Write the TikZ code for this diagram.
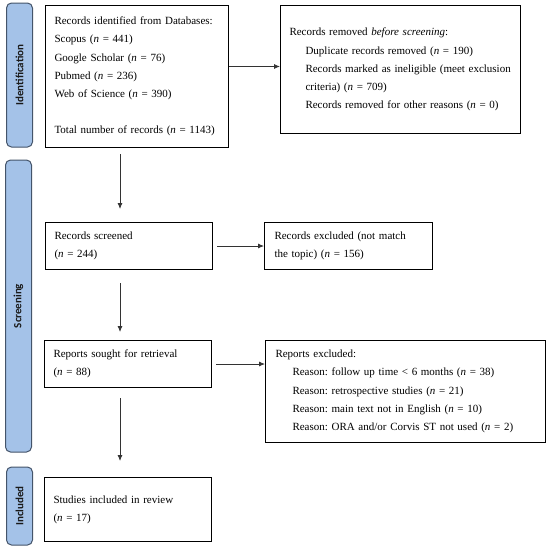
\documentclass[tikz,border=0pt]{standalone}
\usepackage{fontspec}
\setmainfont{Liberation Serif}
\newfontfamily\sidefont{Carlito}
\usetikzlibrary{arrows.meta}
\definecolor{sidefill}{RGB}{164,194,232}
\definecolor{sidedraw}{RGB}{68,84,106}
\tikzstyle{phase} = [rectangle, rounded corners = 5pt, rotate = 90, minimum height = 26pt, draw = sidedraw, line width = 1pt, fill = sidefill, font = \sidefont\fontsize{11}{12}\selectfont\bfseries, text = black!90]
\tikzstyle{box} = [rectangle, anchor = north west, draw = black, line width = 1pt, align = left, inner xsep = 9pt, inner ysep = 0pt, font = \fontsize{11}{18.2}\selectfont\frenchspacing]
\tikzstyle{arrow} = [line width = 0.8pt, black!80, -{Latex[length = 6pt, width = 5pt]}]
\newcommand{\nn}{\textit{n}}

\begin{document}
\begin{tikzpicture}[x = 1pt, y = -1pt]
    \useasboundingbox (0,0) rectangle (548,550);
    % phases on the left
    \node(phid)[phase, minimum width = 144pt] at (19.5,75){Identification};
    \node(phscr)[phase, minimum width = 292pt] at (18.5,306){Screening};
    \node(phinc)[phase, minimum width = 78pt] at (19.5,506){Included};

    % boxes
    \node(ident)[box, text width = 165pt, minimum height = 142pt] at (45,5){Records identified from Databases:\\Scopus (\nn{} = 441)\\Google Scholar (\nn{} = 76)\\Pubmed (\nn{} = 236)\\Web of Science (\nn{} = 390)\\[18.2pt]Total number of records (\nn{} = 1143)};
    \node(removed)[box, text width = 222pt, minimum height = 128pt] at (280,5){Records removed \textit{before screening}:\\\hspace*{16pt}Duplicate records removed (\nn{} = 190)\\\hspace*{16pt}Records marked as ineligible (meet exclusion\\\hspace*{16pt}criteria) (\nn{} = 709)\\\hspace*{16pt}Records removed for other reasons (\nn{} = 0)};
    \node(screened)[box, text width = 149pt, minimum height = 47pt] at (45,222){Records screened\\(\nn{} = 244)};
    \node(excluded)[box, text width = 148pt, inner xsep = 10pt, minimum height = 47pt] at (264,222){Records excluded (not match\\the topic) (\nn{} = 156)};
    \node(sought)[box, text width = 149pt, minimum height = 47pt] at (44,340){Reports sought for retrieval\\(\nn{} = 88)};
    \node(repexcl)[box, text width = 260pt, inner xsep = 10pt, minimum height = 102pt] at (265,340){Reports excluded:\\\hspace*{17pt}Reason: follow up time < 6 months (\nn{} = 38)\\\hspace*{17pt}Reason: retrospective studies (\nn{} = 21)\\\hspace*{17pt}Reason: main text not in English (\nn{} = 10)\\\hspace*{17pt}Reason: ORA and/or Corvis ST not used (\nn{} = 2)};
    \node(included)[box, text width = 149pt, minimum height = 64pt] at (44,477){Studies included in review\\(\nn{} = 17)};

    \coordinate(axis) at (120,0);
    \draw[arrow]([yshift = 10pt]ident.east)--([yshift = 10pt]ident.east -| removed.west);
    \draw[arrow, shorten <= 6pt, shorten >= 13pt](ident.south -| axis)--(screened.north -| axis);
    \draw[arrow, shorten <= 4pt](screened.east)--(excluded.west);
    \draw[arrow, shorten <= 13pt, shorten >= 8pt](screened.south -| axis)--(sought.north -| axis);
    \draw[arrow, shorten <= 4pt](sought.east)--(sought.east -| repexcl.west);
    \draw[arrow, shorten <= 10pt, shorten >= 16pt](sought.south -| axis)--(included.north -| axis);
\end{tikzpicture}
\end{document}
